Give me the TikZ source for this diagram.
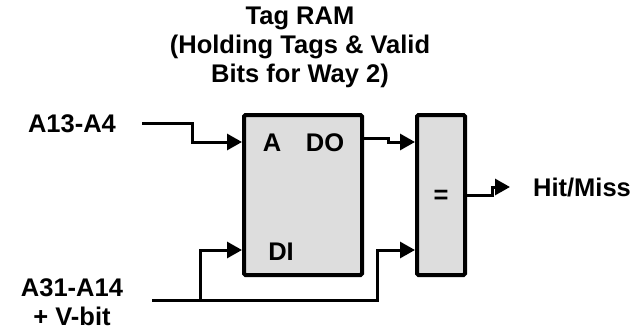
\documentclass[tikz,border=0pt]{standalone}
\usepackage{fontspec}
\setmainfont{Liberation Sans}
\usetikzlibrary{arrows.meta,positioning}
\definecolor{boxgray}{RGB}{221,221,221}
\tikzset{
    blockbase/.style={
        rectangle,
        rounded corners=1.5pt,
        draw=black,
        line width=4pt,
        fill=boxgray,
        inner sep=0pt
    },
    rambox/.style={blockbase, minimum width=118pt, minimum height=160pt},
    cmpbox/.style={blockbase, minimum width=48pt, minimum height=160pt},
    sig/.style={font=\bfseries\fontsize{25.5}{29}\selectfont, align=center, inner sep=0pt},
    wire/.style={line width=3pt},
    arrwire/.style={wire, -{Triangle[length=15pt,width=16pt]}},
}

\begin{document}
\begin{tikzpicture}[x=1pt, y=-1pt]
    \useasboundingbox (0,0) rectangle (644,332);

    % Blocks
    \node[rambox] (ram) at (303,195) {};
    \node[cmpbox] (cmp) at (441,195) {};

    % Labels
    \node[sig] (title) at (300,47) {Tag RAM\\(Holding Tags \& Valid\\Bits for Way 2)};
    \node[sig] (addrlo) at (72,124) {A13-A4};
    \node[sig] (addrhi) at (72,302) {A31-A14\\+ V-bit};
    \node[sig] (hitmiss) at (582,188) {Hit/Miss};
    \node[sig] (pinA) at (272,143) {A};
    \node[sig] (pinDO) at (325,143) {DO};
    \node[sig] (pinDI) at (281,252) {DI};
    \node[sig] (eq) at (441,197) {=};

    % Wire end points
    \coordinate (lostart) at (142,123);
    \coordinate (histart) at (152,300);
    \coordinate (ramA) at (242,142);
    \coordinate (ramDI) at (242,250);
    \coordinate (ramDO) at (364,138);
    \coordinate (cmpA) at (415,142);
    \coordinate (cmpB) at (415,250);
    \coordinate (cmpout) at (467,195);
    \coordinate (hitend) at (510,187);

    % Address in
    \draw[arrwire] (lostart) -- (192,123) -- (192,142) -- (ramA);

    % Tag in, to RAM and to comparator
    \draw[arrwire] (histart) -- (377,300) -- (377,250) -- (cmpB);
    \draw[arrwire] (200,300) -- (200,250) -- (ramDI);

    % Data out to comparator
    \draw[arrwire] (ramDO) -- (388,138) -- (388,142) -- (cmpA);

    % Result
    \draw[arrwire] (cmpout) -- (492,195) -- (492,187) -- (hitend);
\end{tikzpicture}
\end{document}
